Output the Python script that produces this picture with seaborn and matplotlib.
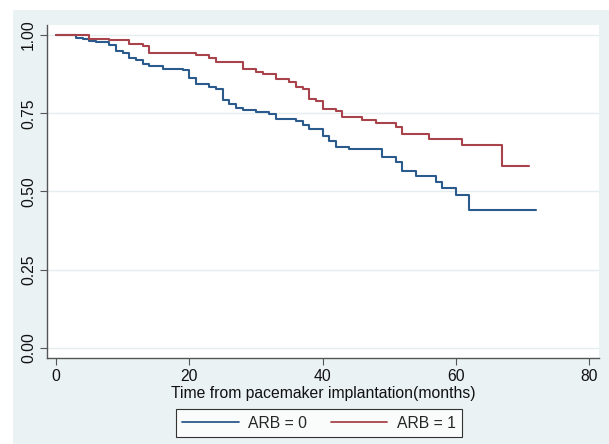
import numpy as np
import pandas as pd
import matplotlib
matplotlib.use("Agg")
import matplotlib.pyplot as plt
from matplotlib.patches import Rectangle
from matplotlib.lines import Line2D
import seaborn as sns

# ---- data ----
arb0_time = [0, 3, 4, 5, 6, 8, 9, 10, 11, 12, 13, 14, 16, 19, 20, 21, 23, 24, 25,
             26, 27, 28, 30, 32, 33, 36, 37, 38, 40, 41, 42, 44, 49, 51, 52, 54,
             57, 58, 60, 62, 72]
arb0_surv = [1.0, 0.991, 0.986, 0.981, 0.978, 0.968, 0.950, 0.944, 0.926, 0.920,
             0.906, 0.901, 0.893, 0.888, 0.862, 0.843, 0.835, 0.827, 0.792, 0.780,
             0.766, 0.760, 0.755, 0.747, 0.732, 0.726, 0.712, 0.700, 0.678, 0.661,
             0.641, 0.635, 0.609, 0.595, 0.567, 0.551, 0.531, 0.512, 0.489, 0.441,
             0.441]

arb1_time = [0, 5, 8, 11, 13, 14, 21, 23, 24, 28, 30, 31, 33, 35, 36, 37, 38, 39,
             40, 42, 43, 46, 48, 51, 52, 56, 61, 67, 71]
arb1_surv = [1.0, 0.988, 0.984, 0.971, 0.965, 0.942, 0.936, 0.928, 0.913, 0.891,
             0.881, 0.875, 0.858, 0.849, 0.835, 0.826, 0.797, 0.790, 0.765, 0.757,
             0.737, 0.728, 0.720, 0.707, 0.683, 0.667, 0.649, 0.581, 0.581]

group_labels = ["ARB = 0", "ARB = 1"]
x_ticks = [0, 20, 40, 60, 80]
y_ticks = [0.00, 0.25, 0.50, 0.75, 1.00]
x_label = "Time from pacemaker implantation(months)"

df = pd.concat([
    pd.DataFrame({"time": arb0_time, "surv": arb0_surv, "group": group_labels[0]}),
    pd.DataFrame({"time": arb1_time, "surv": arb1_surv, "group": group_labels[1]}),
], ignore_index=True)

# ---- style ----
sns.set_theme(style="white")
plt.rcParams["font.family"] = ["Liberation Sans", "DejaVu Sans"]

BG = "#EAF2F3"
colors = {group_labels[0]: "#2B5B8C", group_labels[1]: "#A8434B"}

fig = plt.figure(figsize=(6.09, 4.44), dpi=100)
fig.patch.set_facecolor("white")
fig.add_artist(Rectangle((13 / 609, 0), 1, (444 - 10) / 444,
                         transform=fig.transFigure, facecolor=BG,
                         edgecolor="none", zorder=0))

ax = fig.add_axes([47 / 609, 1 - 358 / 444, (599 - 47) / 609, (358 - 25) / 444])
ax.set_facecolor("white")

sns.lineplot(data=df, x="time", y="surv", hue="group", palette=colors,
             estimator=None, drawstyle="steps-post", linewidth=1.5, ax=ax,
             legend=False)

ax.set_xlim(-1.35, 81.5)
ax.set_ylim(-0.032, 1.032)
ax.set_xticks(x_ticks)
ax.set_yticks(y_ticks)
ax.set_yticklabels([f"{v:.2f}" for v in y_ticks], rotation=90, va="center")
ax.set_xticklabels([str(v) for v in x_ticks])
ax.tick_params(axis="both", which="both", direction="out", length=5, width=0.8,
               color="#555555", labelsize=11.3, labelcolor="#111111", pad=3,
               left=True, bottom=True)
ax.set_xlabel(x_label, fontsize=11.3, color="#111111", labelpad=1)
ax.set_ylabel("")

for y in y_ticks:
    ax.axhline(y, color="#E4EDEF", linewidth=1.0, zorder=0)

for s in ["top", "right"]:
    ax.spines[s].set_visible(False)
for s in ["left", "bottom"]:
    ax.spines[s].set_color("#555555")
    ax.spines[s].set_linewidth(1.0)

handles = [Line2D([], [], color=colors[g], linewidth=1.3) for g in group_labels]
leg = fig.legend(handles, group_labels, loc="center", ncol=2,
                 bbox_to_anchor=(319 / 609, 1 - 423 / 444), frameon=True,
                 fancybox=False, edgecolor="black", facecolor="white",
                 fontsize=11.3, handlelength=3.6, columnspacing=1.5,
                 handletextpad=0.6, borderpad=0.4)
leg.get_frame().set_linewidth(0.8)

fig.savefig("out.png", dpi=100, facecolor=fig.get_facecolor())
